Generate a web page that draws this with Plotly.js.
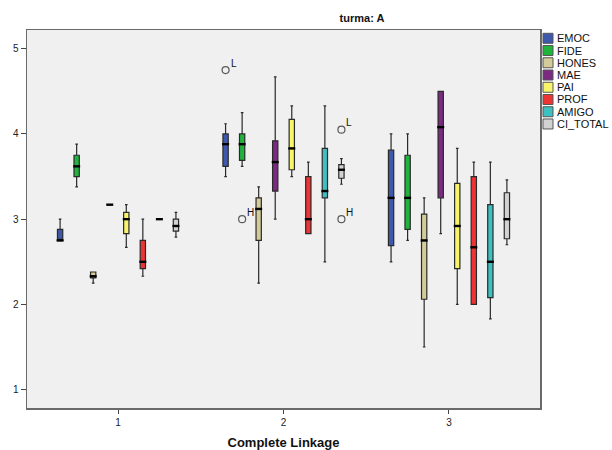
<!DOCTYPE html>
<html>
<head>
<meta charset="utf-8">
<script src="https://cdn.plot.ly/plotly-3.0.1.min.js"></script>
<style>
  html, body { margin: 0; padding: 0; background: #ffffff; }
  #chart { width: 612px; height: 450px; }
</style>
</head>
<body>
<div id="chart"></div>
<script>
// Clusters (Complete Linkage) on the x axis
const clusters = [1, 2, 3];
const seriesNames = ['EMOC', 'FIDE', 'HONES', 'MAE', 'PAI', 'PROF', 'AMIGO', 'CI_TOTAL'];
const seriesColors = ['#3E58AC', '#20B43C', '#D3CC98', '#7B2A82', '#F8F46C', '#EC3434', '#3EBFC0', '#D2D2D2'];

// Box statistics per series, one value per cluster
const lowerFence = {
  EMOC: [2.75, 3.50, 2.50], FIDE: [3.38, 3.62, 2.75], HONES: [2.25, 2.25, 1.50], MAE: [3.17, 3.00, 2.83],
  PAI: [2.67, 3.50, 2.00], PROF: [2.33, 2.83, 2.00], AMIGO: [3.00, 2.50, 1.83], CI_TOTAL: [2.79, 3.41, 2.70]
};
const q1 = {
  EMOC: [2.75, 3.62, 2.69], FIDE: [3.50, 3.69, 2.88], HONES: [2.31, 2.75, 2.06], MAE: [3.17, 3.33, 3.25],
  PAI: [2.83, 3.58, 2.42], PROF: [2.42, 2.83, 2.00], AMIGO: [3.00, 3.25, 2.08], CI_TOTAL: [2.86, 3.48, 2.77]
};
const median = {
  EMOC: [2.75, 3.88, 3.25], FIDE: [3.62, 3.88, 3.25], HONES: [2.33, 3.12, 2.75], MAE: [3.17, 3.67, 4.08],
  PAI: [3.00, 3.83, 2.92], PROF: [2.50, 3.00, 2.67], AMIGO: [3.00, 3.33, 2.50], CI_TOTAL: [2.92, 3.58, 3.00]
};
const q3 = {
  EMOC: [2.88, 4.00, 3.81], FIDE: [3.75, 4.00, 3.75], HONES: [2.38, 3.25, 3.06], MAE: [3.17, 3.92, 4.50],
  PAI: [3.08, 4.17, 3.42], PROF: [2.75, 3.50, 3.50], AMIGO: [3.00, 3.83, 3.17], CI_TOTAL: [3.00, 3.64, 3.31]
};
const upperFence = {
  EMOC: [3.00, 4.12, 4.00], FIDE: [3.88, 4.25, 4.00], HONES: [2.38, 3.38, 3.25], MAE: [3.17, 4.67, 4.50],
  PAI: [3.17, 4.33, 3.83], PROF: [3.00, 3.67, 3.67], AMIGO: [3.00, 4.33, 3.67], CI_TOTAL: [3.08, 3.71, 3.46]
};

// Outlying cases (cluster, value, case label)
const outlierSeries = ['EMOC', 'FIDE', 'CI_TOTAL', 'CI_TOTAL'];
const outlierCluster = [2, 2, 2, 2];
const outlierValue = [4.75, 3.00, 4.05, 3.00];
const outlierLabel = ['L', 'H', 'L', 'H'];

const FONT = 'Arial, "Liberation Sans", sans-serif';
const margin = { l: 27, r: 72, t: 30, b: 42 };
const W = 612, H = 450;
const xRange = [0.45, 3.55];
const boxgap = 0.2, boxgroupgap = 0.68;
const N = seriesNames.length;

// position of a series' box inside its cluster group (same rule plotly uses for boxmode 'group')
const groupOffset = i => (1 - boxgap) * ((i + 0.5) / N - 0.5);

const traces = seriesNames.map((name, i) => ({
  type: 'box',
  name: name,
  x: clusters,
  q1: q1[name],
  median: median[name],
  q3: q3[name],
  lowerfence: lowerFence[name],
  upperfence: upperFence[name],
  boxpoints: false,
  fillcolor: seriesColors[i],
  line: { color: '#2a2a2a', width: 1.2 },
  whiskerwidth: 0.5,
  hoverinfo: 'skip'
}));

// heavier median bars drawn over each box
seriesNames.forEach((name, i) => {
  traces.push({
    type: 'scatter', mode: 'markers',
    x: clusters.map(c => c + groupOffset(i)),
    y: median[name],
    marker: { symbol: 'line-ew', size: 5, color: '#000', line: { color: '#000', width: 2.4 } },
    hoverinfo: 'skip', showlegend: false
  });
});

// outlier circles, placed on their series' box
traces.push({
  type: 'scatter', mode: 'markers',
  x: outlierCluster.map((c, k) => c + groupOffset(seriesNames.indexOf(outlierSeries[k]))),
  y: outlierValue,
  marker: { symbol: 'circle-open', size: 7, color: '#5a5a5a', line: { width: 1.2 } },
  hoverinfo: 'skip', showlegend: false
});

// pixel helpers for legend placement
const plotW = W - margin.l - margin.r;
const plotH = H - margin.t - margin.b;
const pxToPaperX = px => (px - margin.l) / plotW;
const pxToPaperY = py => (H - margin.b - py) / plotH;

const annotations = outlierValue.map((v, k) => ({
  x: outlierCluster[k] + groupOffset(seriesNames.indexOf(outlierSeries[k])),
  y: v, xref: 'x', yref: 'y',
  text: outlierLabel[k], showarrow: false,
  xshift: 8, yshift: 7,
  font: { family: FONT, size: 10, color: '#111' }
}));

// series key on the right
const shapes = [];
seriesNames.forEach((name, i) => {
  const cy = 38.3 + 12.24 * i;
  shapes.push({
    type: 'rect', xref: 'paper', yref: 'paper',
    x0: pxToPaperX(543), x1: pxToPaperX(553),
    y0: pxToPaperY(cy + 5), y1: pxToPaperY(cy - 5),
    fillcolor: seriesColors[i], line: { color: '#555', width: 1 }
  });
  annotations.push({
    xref: 'paper', yref: 'paper', x: pxToPaperX(555), y: pxToPaperY(cy),
    xanchor: 'left', yanchor: 'middle', text: name, showarrow: false,
    font: { family: FONT, size: 11, color: '#111' }
  });
});

const layout = {
  width: W, height: H,
  margin: margin,
  paper_bgcolor: '#ffffff',
  plot_bgcolor: '#f0f0f0',
  font: { family: FONT, size: 10, color: '#222' },
  title: {
    text: '<b>turma: A</b>', xref: 'paper', x: pxToPaperX(362), xanchor: 'center',
    yref: 'container', y: 1 - 18 / H, yanchor: 'middle',
    font: { family: FONT, size: 11, color: '#111' }
  },
  showlegend: false,
  boxmode: 'group',
  boxgap: boxgap,
  boxgroupgap: boxgroupgap,
  xaxis: {
    range: xRange, tickvals: clusters,
    showgrid: false, zeroline: false,
    showline: true, mirror: true, linecolor: '#6a6a6a', linewidth: 1.5,
    ticks: 'outside', ticklen: 4, tickcolor: '#444', tickwidth: 1,
    tickfont: { family: FONT, size: 10, color: '#222' },
    title: { text: '<b>Complete Linkage</b>', standoff: 12, font: { family: FONT, size: 13, color: '#111' } }
  },
  yaxis: {
    range: [0.784, 5.22], tickvals: [1, 2, 3, 4, 5],
    showgrid: false, zeroline: false,
    showline: true, mirror: true, linecolor: '#6a6a6a', linewidth: 1.5,
    ticks: 'outside', ticklen: 5, tickcolor: '#444', tickwidth: 1,
    tickfont: { family: FONT, size: 10, color: '#222' }
  },
  shapes: shapes,
  annotations: annotations
};

Plotly.newPlot('chart', traces, layout, { staticPlot: true, displayModeBar: false });
</script>
</body>
</html>
